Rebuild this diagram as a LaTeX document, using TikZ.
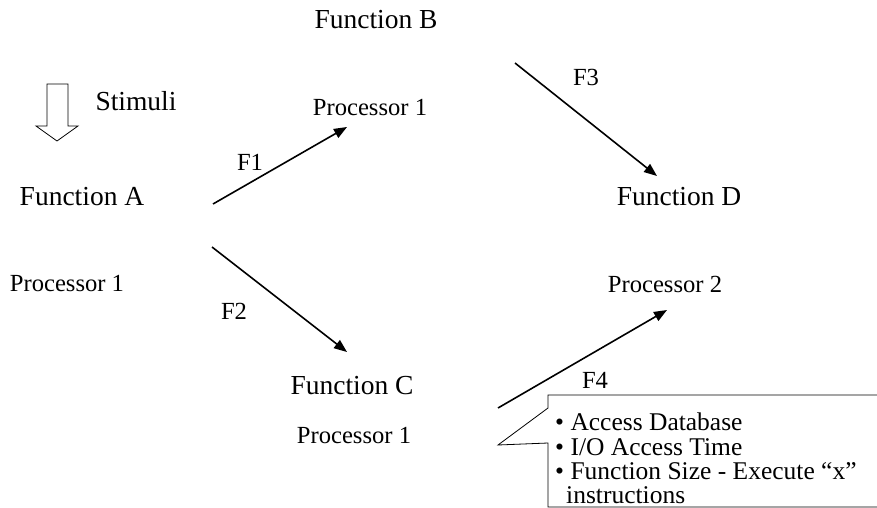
\documentclass[tikz,border=0pt]{standalone}
\usepackage{fontspec}
\setmainfont{Liberation Serif}
\usetikzlibrary{arrows.meta}

\begin{document}
\begin{tikzpicture}[x=1pt, y=-1pt,
        func/.style={font=\fontsize{27.5}{30}\selectfont, inner sep=0pt},
        proc/.style={font=\fontsize{24.6}{27}\selectfont, inner sep=0pt},
        flow/.style={font=\fontsize{24.6}{27}\selectfont, inner sep=0pt},
        link/.style={line width=1.6pt, -{Triangle[length=13pt, width=10pt]}},
        % block arrow and callout are plain paths
    ]
    \clip (0,0) rectangle (877,508);

    \node[func] (funcB) at (376,20) {Function B};
    \node[func] (funcA) at (82,197) {Function A};
    \node[func] (funcD) at (679,197) {Function D};
    \node[func] (funcC) at (352,386) {Function C};
    \node[func] (stimuli) at (136,101) {Stimuli};

    \node[proc] (procB) at (370,108) {Processor 1};
    \node[proc] (procA) at (67,283) {Processor 1};
    \node[proc] (procD) at (665,284) {Processor 2};
    \node[proc] (procC) at (354,435) {Processor 1};

    \node[flow] (f1) at (250,162) {F1};
    \node[flow] (f2) at (234,311) {F2};
    \node[flow] (f3) at (586,77) {F3};
    \node[flow] (f4) at (595,380) {F4};

    \coordinate (aout1) at (213,204);
    \coordinate (bin) at (347,127);
    \coordinate (aout2) at (212,247);
    \coordinate (cin) at (347,352);
    \coordinate (bout) at (515,63);
    \coordinate (din1) at (657,176);
    \coordinate (cout) at (498,408);
    \coordinate (din2) at (667,310);

    \draw[link] (aout1) -- (bin);
    \draw[link] (aout2) -- (cin);
    \draw[link] (bout) -- (din1);
    \draw[link] (cout) -- (din2);

    % stimuli arrow
    \draw[line width=0.8pt] (47,84) -- (68,84) -- (68,126) -- (78,126) -- (57,141)
        -- (36,126) -- (47,126) -- cycle;

    % callout
    \coordinate (tip) at (498,445);
    \draw[line width=0.8pt] (548,408) -- (548,395) -- (890,395) -- (890,507)
        -- (548,507) -- (548,443) -- (tip) -- cycle;
    \node[anchor=north west, inner sep=0pt, align=left,
        font=\fontsize{25.5}{24.3}\selectfont] (notes) at (555,413)
        {• Access Database\\• I/O Access Time\\• Function Size - Execute “x”\\
        \hspace{11pt}instructions};
\end{tikzpicture}
\end{document}
